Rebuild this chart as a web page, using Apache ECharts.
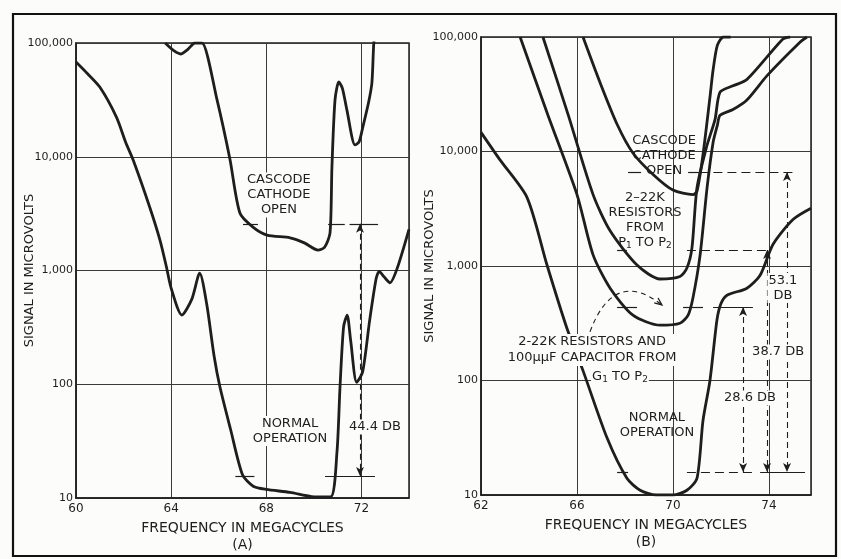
<!DOCTYPE html>
<html><head><meta charset="utf-8">
<script src="https://cdn.jsdelivr.net/npm/echarts@6/dist/echarts.min.js"></script>
<style>html,body{margin:0;padding:0;background:#fcfcfa}#c{width:841px;height:559px}</style>
</head><body><div id="c"></div><script>
// ---------- tick labels ----------
const yTickLabels = ['10', '100', '1,000', '10,000', '100,000'];
const xTickLabelsA = ['60', '64', '68', '72'];
const xTickLabelsB = ['62', '66', '70', '74'];

// ---------- panel (A) ----------
const aNormalFreq   = [60, 60.4, 61.0, 61.7, 62.1, 62.4, 63.1, 63.53, 63.8, 64.0, 64.45, 64.87, 65.2, 65.5, 65.8, 66.05, 66.5, 67.0, 67.45, 68.0, 69.0, 69.9, 70.7, 70.97, 71.1, 71.25, 71.4, 71.55, 71.8, 72.05, 72.35, 72.62, 72.75, 72.95, 73.2, 73.5, 74.0];
const aNormalSignal = [68000, 56000, 41000, 22300, 13200, 9400, 3600, 1850, 1080, 700, 406, 560, 950, 500, 180, 95, 40, 16, 12.7, 11.9, 11.2, 10.3, 10.2, 25, 95, 320, 406, 240, 104, 128, 370, 850, 980, 880, 780, 1040, 2300];

const aCascodeFreq   = [63.75, 64.1, 64.4, 64.7, 65.0, 65.15, 65.3, 65.93, 66.47, 66.89, 67.44, 68.03, 69.0, 69.6, 70.17, 70.45, 70.68, 70.76, 70.89, 71.05, 71.2, 71.39, 71.73, 71.9, 72.06, 72.3, 72.44, 72.52, 72.6];
const aCascodeSignal = [100000, 86000, 80000, 88000, 100000, 100000, 100000, 31600, 9560, 3200, 2410, 2050, 1940, 1750, 1510, 1600, 2140, 8130, 31600, 45400, 40000, 25700, 12700, 13500, 18300, 30000, 44500, 100000, 130000];

// reference marks (A): [x1, x2, level]
const aTicks  = [[67.02, 67.65, 2570], [70.6, 71.3, 2570], [71.5, 72.7, 2570], [66.7, 67.5, 15.6], [70.47, 72.57, 15.6]];
const aArrows = [[71.94, 2570, 15.6]];

// ---------- panel (B) ----------
const bNormalFreq   = [62.0, 62.8, 63.92, 64.75, 65.58, 66.25, 67.25, 68.08, 68.63, 69.3, 70.0, 70.58, 71.0, 71.25, 71.54, 71.83, 72.0, 72.25, 73.08, 73.63, 74.17, 75.0, 75.75];
const bNormalSignal = [14700, 8400, 3960, 1020, 286, 122, 31.6, 14, 11, 10, 10, 11, 14, 44.7, 100, 336, 470, 556, 640, 830, 1550, 2550, 3200];

const bG1P2Freq   = [63.63, 64.79, 66.0, 66.67, 67.38, 68.33, 69.46, 70.29, 70.63, 70.83, 71.13, 71.42, 71.67, 71.85, 71.96, 72.5, 73.08, 73.92, 75.29, 75.58];
const bG1P2Signal = [100000, 20700, 4200, 1250, 640, 372, 304, 316, 372, 525, 1250, 4830, 12000, 17000, 20700, 23300, 28200, 46000, 90000, 100000];

const bP1P2Freq   = [64.58, 65.63, 66.67, 67.38, 68.5, 69.46, 70.29, 70.58, 70.79, 71.0, 71.4, 71.75, 71.96, 72.5, 73.08, 74.58, 74.88];
const bP1P2Signal = [100000, 21000, 4200, 2030, 1020, 770, 810, 960, 1440, 4830, 11000, 19000, 33000, 37500, 42500, 96000, 100000];

const bCascodeFreq   = [66.25, 66.96, 67.67, 68.33, 69.17, 70.0, 70.83, 71.0, 71.25, 71.54, 71.67, 71.85, 72.1, 72.4];
const bCascodeSignal = [100000, 40000, 17300, 9700, 6300, 4600, 4200, 4500, 9400, 29800, 51500, 85000, 100000, 100000];

// reference marks (B)
const bTicksSolid  = [[68.13, 68.67, 6620], [70.63, 71.1, 6620], [67.67, 68.08, 1380], [67.67, 68.5, 438], [70.42, 71.25, 438], [71.67, 73.33, 438], [67.67, 68.13, 15.9], [73.63, 75.5, 15.9]];
const bTicksDashed = [[71.1, 75.17, 6620], [70.58, 73.92, 1380], [70.58, 73.33, 15.9]];
const bArrows = [[74.75, 6620, 15.9], [73.92, 1380, 15.9], [72.92, 438, 15.9]];
const bCurvedArrow = [[66.54, 266], [67.54, 970], [69.54, 457]];

const INK = '#1e1e1e';
const BG = '#fcfcfa';
const FONT = 'DejaVu Sans';

function zip(f, v) { return f.map((x, i) => [x, v[i]]); }
function curve(name, idx, f, v) {
  return { type: 'line', name, xAxisIndex: idx, yAxisIndex: idx, data: zip(f, v),
    symbol: 'none', showSymbol: false, smooth: 0.25, clip: true,
    lineStyle: { color: INK, width: 2.8 }, z: 3, silent: true };
}
function marks(idx, solid, dashed, arrows) {
  const data = [];
  solid.forEach(s => data.push([{ coord: [s[0], s[2]], symbol: 'none', lineStyle: { type: 'solid', width: 1.2, color: INK } }, { coord: [s[1], s[2]], symbol: 'none' }]));
  dashed.forEach(s => data.push([{ coord: [s[0], s[2]], symbol: 'none', lineStyle: { type: [9, 5], width: 1.2, color: INK } }, { coord: [s[1], s[2]], symbol: 'none' }]));
  arrows.forEach(a => data.push([{ coord: [a[0], a[1]], symbol: 'arrow', lineStyle: { type: [6, 4], width: 1.1, color: INK } }, { coord: [a[0], a[2]], symbol: 'arrow' }]));
  return { type: 'line', xAxisIndex: idx, yAxisIndex: idx, data: [], silent: true,
    markLine: { silent: true, animation: false, symbolSize: [6, 9], label: { show: false },
      lineStyle: { color: INK }, data } };
}
function yAxis(idx) {
  return { type: 'log', logBase: 10, min: 10, max: 100000, gridIndex: idx,
    axisLine: { show: true, lineStyle: { color: INK, width: 1.5 } },
    axisTick: { show: false }, minorTick: { show: false },
    axisLabel: { fontFamily: FONT, fontSize: 11, color: INK, margin: 3,
      formatter: v => yTickLabels[Math.round(Math.log10(v)) - 1] || '' },
    splitLine: { show: true, lineStyle: { color: '#3a3a3a', width: 1 } } };
}
function xAxis(idx, min, max, labels, letter) {
  return { type: 'value', min, max, interval: 4, gridIndex: idx,
    name: 'FREQUENCY IN MEGACYCLES\n(' + letter + ')', nameLocation: 'middle', nameGap: 22,
    nameTextStyle: { fontFamily: FONT, fontSize: 14, color: INK, lineHeight: 17 },
    axisLine: { show: true, lineStyle: { color: INK, width: 1.5 } },
    axisTick: { show: false },
    axisLabel: { fontFamily: FONT, fontSize: 12, color: INK, margin: 5, showMaxLabel: false,
      formatter: v => labels.indexOf(String(Math.round(v))) >= 0 && Math.abs(v - Math.round(v)) < 1e-6 ? String(Math.round(v)) : '' },
    splitLine: { show: true, lineStyle: { color: '#3a3a3a', width: 1 } } };
}

const chart = echarts.init(document.getElementById('c'));
chart.setOption({
  backgroundColor: BG,
  animation: false,
  grid: [
    { left: 76, top: 43, width: 333, height: 455, show: true, borderColor: INK, borderWidth: 1.5 },
    { left: 481, top: 37, width: 330, height: 458, show: true, borderColor: INK, borderWidth: 1.5 }
  ],
  xAxis: [xAxis(0, 60, 74, xTickLabelsA, 'A'), xAxis(1, 62, 75.75, xTickLabelsB, 'B')],
  yAxis: [yAxis(0), yAxis(1)],
  series: [
    curve('A normal operation', 0, aNormalFreq, aNormalSignal),
    curve('A cascode cathode open', 0, aCascodeFreq, aCascodeSignal),
    curve('B normal operation', 1, bNormalFreq, bNormalSignal),
    curve('B G1 to P2', 1, bG1P2Freq, bG1P2Signal),
    curve('B P1 to P2', 1, bP1P2Freq, bP1P2Signal),
    curve('B cascode cathode open', 1, bCascodeFreq, bCascodeSignal),
    marks(0, aTicks, [], aArrows),
    marks(1, bTicksSolid, bTicksDashed, bArrows)
  ]
});

// ---------- annotations positioned through the axes ----------
function px(idx, x, y) { return chart.convertToPixel({ gridIndex: idx }, [x, y]); }
const sub = { s: { fontSize: 9, verticalAlign: 'bottom', fontFamily: FONT, color: INK, padding: [8, 0, 0, 0] } };
function label(idx, x, y, text, opt) {
  const p = px(idx, x, y);
  return Object.assign({ type: 'text', x: p[0], y: p[1], z: 100,
    style: Object.assign({ text, fill: INK, font: '13px "' + FONT + '"', align: 'center', verticalAlign: 'middle',
      lineHeight: 15, backgroundColor: BG, padding: [0, 1], rich: sub }, opt || {}) });
}
function yName(idx) {
  const gr = chart.getModel().getComponent('grid', idx).coordinateSystem.getRect();
  const off = idx === 0 ? 46 : 51;
  return { type: 'text', x: gr.x - off, y: gr.y + gr.height / 2, rotation: Math.PI / 2, z: 100,
    style: { text: 'SIGNAL IN MICROVOLTS', fill: INK, font: '13px "' + FONT + '"', align: 'center', verticalAlign: 'middle' } };
}
const g = [];
g.push({ type: 'rect', z: 120, shape: { x: 13, y: 14, width: 823, height: 542 }, style: { fill: null, stroke: '#111', lineWidth: 2.2 } });
g.push(yName(0));
g.push(yName(1));
g.push(label(0, 68.53, 4610, 'CASCODE\nCATHODE\nOPEN'));
g.push(label(0, 69.0, 38.8, 'NORMAL\nOPERATION'));
g.push(label(0, 72.57, 42, '44.4 DB'));
g.push(label(1, 69.63, 9140, 'CASCODE\nCATHODE\nOPEN', { backgroundColor: null }));
g.push(label(1, 68.83, 2520, '2–22K\nRESISTORS\nFROM\nP{s|1} TO P{s|2}', { backgroundColor: null }));
g.push(label(1, 66.63, 185, '2-22K RESISTORS AND\n100\u03bc\u03bcF CAPACITOR FROM', { lineHeight: 16 }));
g.push(label(1, 67.79, 109, 'G{s|1} TO P{s|2}'));
g.push(label(1, 69.33, 40.8, 'NORMAL\nOPERATION', { backgroundColor: null }));
g.push(label(1, 74.58, 643, '53.1\nDB'));
g.push(label(1, 74.38, 177, '38.7 DB'));
g.push(label(1, 73.21, 70.3, '28.6 DB'));
// curved dashed arrow
const c0 = px(1, bCurvedArrow[0][0], bCurvedArrow[0][1]);
const c1 = px(1, bCurvedArrow[1][0], bCurvedArrow[1][1]);
const c2 = px(1, bCurvedArrow[2][0], bCurvedArrow[2][1]);
g.push({ type: 'bezierCurve', z: 90, shape: { x1: c0[0], y1: c0[1], cpx1: c1[0], cpy1: c1[1], x2: c2[0], y2: c2[1] },
  style: { stroke: INK, lineWidth: 1.1, fill: null, lineDash: [5, 4] } });
const ang = Math.atan2(c2[1] - c1[1], c2[0] - c1[0]);
const L = 8;
g.push({ type: 'polyline', z: 90, shape: { points: [
  [c2[0] - L * Math.cos(ang - 0.4), c2[1] - L * Math.sin(ang - 0.4)], [c2[0], c2[1]],
  [c2[0] - L * Math.cos(ang + 0.4), c2[1] - L * Math.sin(ang + 0.4)]] },
  style: { stroke: INK, lineWidth: 1.3, fill: null } });
chart.setOption({ graphic: g });
</script></body></html>
